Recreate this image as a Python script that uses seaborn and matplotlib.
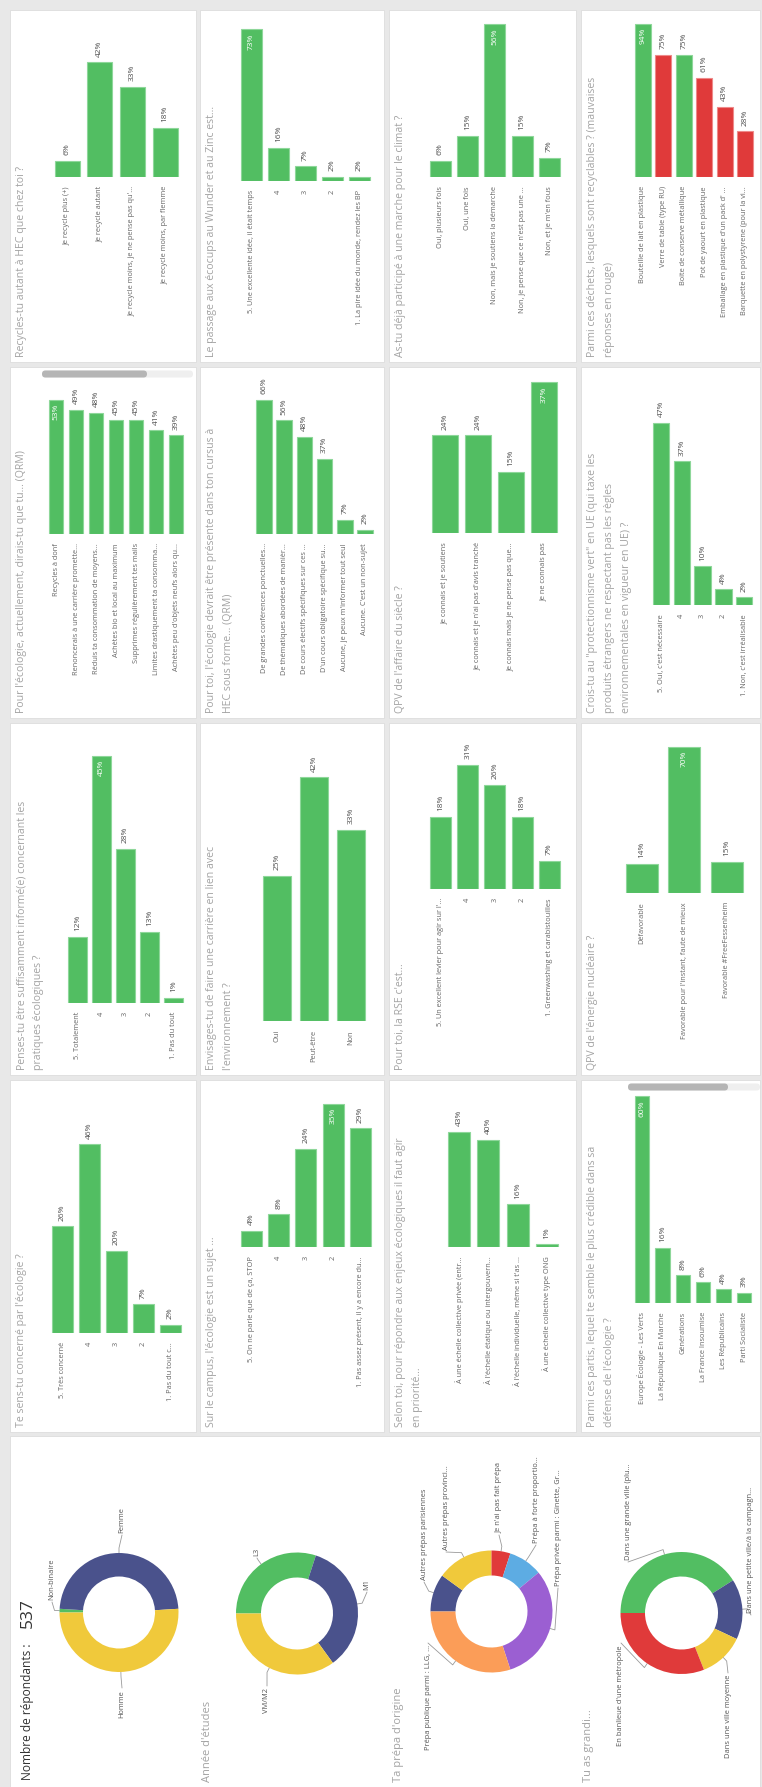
import matplotlib
matplotlib.use("Agg")
import matplotlib.pyplot as plt
from matplotlib.patches import Rectangle, FancyBboxPatch
import seaborn as sns
import pandas as pd
import numpy as np

sns.set_theme(style="white")
plt.rcParams['font.family'] = ['Open Sans', 'DejaVu Sans']

# ---------------------------------------------------------------- data
recycle_cats = ["Je recycle plus (+)", "Je recycle autant",
                "Je recycle moins, je ne pense pas qu'...", "Je recycle moins, par flemme"]
recycle_vals = [6, 42, 33, 18]

ecocup_cats = ["5. Une excellente idée, il était temps", "4", "3", "2",
               "1. La pire idée du monde, rendez les BP"]
ecocup_vals = [73, 16, 7, 2, 2]

marche_cats = ["Oui, plusieurs fois", "Oui, une fois", "Non, mais je soutiens la démarche",
               "Non, je pense que ce n'est pas une ...", "Non, et je m'en fous"]
marche_vals = [6, 15, 56, 15, 7]

dechets_cats = ["Bouteille de lait en plastique", "Verre de table (type RU)",
                "Boite de conserve métallique", "Pot de yaourt en plastique",
                "Emballage en plastique d'un pack d' ...", "Barquette en polystyrene (pour la vi..."]
dechets_vals = [94, 75, 75, 61, 43, 28]
dechets_correct = [True, False, True, False, False, False]

actuel_cats = ["Recycles à donf", "Renoncerais à une carrière promette...",
               "Réduis ta consommation de moyens...", "Achètes bio et local au maximum",
               "Supprimes régulièrement tes mails", "Limites drastiquement ta consomma...",
               "Achètes peu d'objets neufs alors qu..."]
actuel_vals = [53, 49, 48, 45, 45, 41, 39]

cursus_cats = ["De grandes conférences ponctuelles...", "De thématiques abordées de manièr...",
               "De cours électifs spécifiques sur ces ...", "D'un cours obligatoire spécifique su...",
               "Aucune, je peux m'informer tout seul", "Aucune. C'est un non-sujet"]
cursus_vals = [66, 56, 48, 37, 7, 2]

siecle_cats = ["Je connais et je soutiens", "Je connais et je n'ai pas d'avis tranché",
               "Je connais mais je ne pense pas que...", "Je ne connais pas"]
siecle_vals = [24, 24, 15, 37]

protec_cats = ["5. Oui, c'est nécessaire", "4", "3", "2", "1. Non, c'est irréalisable"]
protec_vals = [47, 37, 10, 4, 2]

informe_cats = ["5. Totalement", "4", "3", "2", "1. Pas du tout"]
informe_vals = [12, 45, 28, 13, 1]

carriere_cats = ["Oui", "Peut-être", "Non"]
carriere_vals = [25, 42, 33]

rse_cats = ["5. Un excellent levier pour agir sur l'...", "4", "3", "2",
            "1. Greenwashing et carabistouilles"]
rse_vals = [18, 31, 26, 18, 7]

nucl_cats = ["Défavorable", "Favorable pour l'instant, faute de mieux", "Favorable #FreeFessenheim"]
nucl_vals = [14, 70, 15]

concerne_cats = ["5. Très concerné", "4", "3", "2", "1. Pas du tout c..."]
concerne_vals = [26, 46, 20, 7, 2]

campus_cats = ["5. On ne parle que de ça, STOP", "4", "3", "2",
               "1. Pas assez présent, il y a encore du..."]
campus_vals = [4, 8, 24, 35, 29]

echelle_cats = ["À une échelle collective privée (entr...", "À l'échelle étatique ou intergouvern...",
                "À l'échelle individuelle, même si t'as ...", "À une échelle collective type ONG"]
echelle_vals = [43, 40, 16, 1]

partis_cats = ["Europe Écologie - Les Verts", "La République En Marche", "Générations",
               "La France Insoumise", "Les Républicains", "Parti Socialiste"]
partis_vals = [60, 16, 8, 6, 4, 3]

nb_repondants = 537

genre_cats = ["Non-binaire", "Femme", "Homme"]
genre_vals = [1, 48, 51]

annee_cats = ["L3", "M1", "VM/M2"]
annee_vals = [30, 35, 35]

prepa_cats = ["Autres prépas parisiennes", "Autres prépas provinci...", "Je n'ai pas fait prépa",
              "Prépa à forte proportio...", "Prépa privée parmi : Ginette, Gr...",
              "Prépa publique parmi : LLG, ..."]
prepa_vals = [10, 15, 5, 9, 31, 30]

grandi_cats = ["Dans une grande ville (plu...", "Dans une petite ville/à la campagn...",
               "Dans une ville moyenne", "En banlieue d'une métropole"]
grandi_vals = [41, 16, 12, 31]

# ---------------------------------------------------------------- style
W, H, DPI = 762, 1787, 100
GREEN = "#52BE62"
GREEN_EDGE = "#8ED79A"
RED = "#E03A3A"
RED_EDGE = "#EE8A8A"
NAVY = "#4A528C"
YELLOW = "#F0C93B"
ORANGE = "#FB9D58"
PURPLE = "#9B5FD2"
LBLUE = "#5DACE3"
BG = "#E8E8E8"
TITLE_C = "#A3A3A3"
CAT_C = "#666666"
VAL_C = "#505050"
TITLE_FS = 7.6
CAT_FS = 5.3
VAL_FS = 6.0

cols = [(10, 186), (200, 184), (389, 187), (581, 179)]
rows = [(10, 352), (367, 351), (723, 352), (1080, 352)]

fig = plt.figure(figsize=(W / DPI, H / DPI), dpi=DPI)
fig.patch.set_facecolor(BG)
bg = fig.add_axes([0, 0, 1, 1])
bg.set_xlim(0, W)
bg.set_ylim(H, 0)
bg.axis("off")


def frect(x, y, w, h):
    return [x / W, 1 - (y + h) / H, w / W, h / H]


panels = [
    dict(r=0, c=0, title="Recycles-tu autant à HEC que chez toi ?", cats=recycle_cats, vals=recycle_vals,
         c0=67, pitch=32.7, bw=25, base=177, ppp=2.73, inside=False),
    dict(r=0, c=1, title="Le passage aux écocups au Wunder et au Zinc est...", cats=ecocup_cats, vals=ecocup_vals,
         c0=251.5, pitch=27, bw=21, base=181, ppp=2.08, inside=True),
    dict(r=0, c=2, title="As-tu déjà participé à une marche pour le climat ?", cats=marche_cats, vals=marche_vals,
         c0=440.5, pitch=27.2, bw=21, base=177, ppp=2.73, inside=True),
    dict(r=0, c=3, title="Parmi ces déchets, lesquels sont recyclables ? (mauvaises\nréponses en rouge)",
         cats=dechets_cats, vals=dechets_vals, correct=dechets_correct,
         c0=643, pitch=20.4, bw=16, base=177, ppp=1.63, inside=True),
    dict(r=1, c=0, title="Pour l'écologie, actuellement, dirais-tu que tu... (QRM)", cats=actuel_cats, vals=actuel_vals,
         c0=56, pitch=20, bw=14, base=534, ppp=2.53, inside=True, scroll=(42, 147, 193, 374)),
    dict(r=1, c=1, title="Pour toi, l'écologie devrait être présente dans ton cursus à\nHEC sous forme... (QRM)",
         cats=cursus_cats, vals=cursus_vals,
         c0=264, pitch=20.2, bw=15.5, base=534, ppp=2.03, inside=False),
    dict(r=1, c=2, title="QPV de l'affaire du siècle ?", cats=siecle_cats, vals=siecle_vals,
         c0=445, pitch=33, bw=25.5, base=533, ppp=4.08, inside=True),
    dict(r=1, c=3, title="Crois-tu au \"protectionnisme vert\" en UE (qui taxe les\nproduits étrangers ne respectant pas les règles\nenvironnementales en vigueur en UE) ?",
         cats=protec_cats, vals=protec_vals,
         c0=661, pitch=20.8, bw=16.5, base=605, ppp=3.88, inside=False),
    dict(r=2, c=0, title="Penses-tu être suffisamment informé(e) concernant les\npratiques écologiques ?",
         cats=informe_cats, vals=informe_vals,
         c0=77.5, pitch=24, bw=19, base=1003, ppp=5.5, inside=True),
    dict(r=2, c=1, title="Envisages-tu de faire une carrière en lien avec\nl'environnement ?",
         cats=carriere_cats, vals=carriere_vals,
         c0=277, pitch=37, bw=28, base=1021, ppp=5.8, inside=False),
    dict(r=2, c=2, title="Pour toi, la RSE c'est...", cats=rse_cats, vals=rse_vals,
         c0=440.5, pitch=27.2, bw=21, base=889, ppp=4.0, inside=False),
    dict(r=2, c=3, title="QPV de l'énergie nucléaire ?", cats=nucl_cats, vals=nucl_vals,
         c0=642, pitch=42.3, bw=32, base=893, ppp=2.09, inside=True),
    dict(r=3, c=0, title="Te sens-tu concerné par l'écologie ?", cats=concerne_cats, vals=concerne_vals,
         c0=62.5, pitch=27, bw=21, base=1333, ppp=4.1, inside=False),
    dict(r=3, c=1, title="Sur le campus, l'écologie est un sujet ...", cats=campus_cats, vals=campus_vals,
         c0=251.5, pitch=27.2, bw=21, base=1247, ppp=4.1, inside=True),
    dict(r=3, c=2, title="Selon toi, pour répondre aux enjeux écologiques il faut agir\nen priorité...",
         cats=echelle_cats, vals=echelle_vals,
         c0=459, pitch=29.3, bw=22, base=1247, ppp=2.68, inside=False),
    dict(r=3, c=3, title="Parmi ces partis, lequel te semble le plus crédible dans sa\ndéfense de l'écologie ?",
         cats=partis_cats, vals=partis_vals,
         c0=642, pitch=20.4, bw=14.5, base=1303, ppp=3.45, inside=True, scroll=(628, 728, 760, 1087)),
]

for p in panels:
    px, pw = cols[p["c"]]
    py, ph = rows[p["r"]]
    bg.add_patch(Rectangle((px, py), pw, ph, facecolor="white", edgecolor="#DDDDDD", lw=0.6))
    bg.text(px + 6, py + ph - 5, p["title"], rotation=90, rotation_mode="anchor",
            ha="left", va="top", fontsize=TITLE_FS, color=TITLE_C, linespacing=1.75)
    if "scroll" in p:
        x0, x1, x2, yy = p["scroll"]
        bg.add_patch(FancyBboxPatch((x0, yy - 3.5), x2 - x0, 7, boxstyle="round,pad=0,rounding_size=3.5",
                                    facecolor="#EFEFEF", edgecolor="none"))
        bg.add_patch(FancyBboxPatch((x0, yy - 3.5), x1 - x0, 7, boxstyle="round,pad=0,rounding_size=3.5",
                                    facecolor="#B5B5B5", edgecolor="none"))

    n = len(p["cats"])
    top = py + 8
    ax_left = p["c0"] - p["pitch"] / 2
    ax = fig.add_axes(frect(ax_left, top, n * p["pitch"], p["base"] - top))
    df = pd.DataFrame({"cat": p["cats"], "val": p["vals"]})
    if "correct" in p:
        pal = [GREEN if ok else RED for ok in p["correct"]]
        edges = [GREEN_EDGE if ok else RED_EDGE for ok in p["correct"]]
    else:
        pal = [GREEN] * n
        edges = [GREEN_EDGE] * n
    sns.barplot(data=df, x="cat", y="val", hue="cat", order=p["cats"], hue_order=p["cats"],
                palette=pal, saturation=1, width=p["bw"] / p["pitch"], legend=False, ax=ax)
    for patch, ec in zip(ax.patches, edges):
        patch.set_edgecolor(ec)
        patch.set_linewidth(0.8)
    ax.set_xlim(-0.5, n - 0.5)
    ax.set_ylim(0, (p["base"] - top) / p["ppp"])
    ax.set_facecolor("none")
    for s in ax.spines.values():
        s.set_visible(False)
    ax.set_yticks([])
    ax.set_xlabel("")
    ax.set_ylabel("")
    ax.set_xticks(range(n))
    ax.set_xticklabels(p["cats"], rotation=90, ha="center", va="top", fontsize=CAT_FS, color=CAT_C)
    ax.tick_params(axis="x", length=0, pad=6.5)
    vmax = max(p["vals"])
    imax = p["vals"].index(vmax)
    for i, v in enumerate(p["vals"]):
        if p["inside"] and i == imax:
            ax.annotate(f"{v}%", (i, v), xytext=(0, -3), textcoords="offset points", rotation=90,
                        ha="center", va="top", fontsize=VAL_FS, color="white")
        else:
            ax.annotate(f"{v}%", (i, v), xytext=(0, 4), textcoords="offset points", rotation=90,
                        ha="center", va="bottom", fontsize=VAL_FS, color=VAL_C)

# ---------------------------------------------------------------- donut panel
ey, eh = 1436, 351
bg.add_patch(Rectangle((10, ey), 750, eh, facecolor="white", edgecolor="#DDDDDD", lw=0.6))
bg.text(28, 1780, "Nombre de répondants :", rotation=90, rotation_mode="anchor",
        ha="left", va="center", fontsize=8.6, color="#333333")
bg.text(28, 1628, f"{nb_repondants}", rotation=90, rotation_mode="anchor",
        ha="left", va="center", fontsize=12.5, color="#333333")
for xx, tt in [(207, "Année d'études"), (399, "Ta prépa d'origine"), (589, "Tu as grandi...")]:
    bg.text(xx, 1782, tt, rotation=90, rotation_mode="anchor", ha="left", va="center",
            fontsize=8.0, color=TITLE_C)

donuts = [
    dict(cats=genre_cats, vals=genre_vals, colors=[GREEN, NAVY, YELLOW], cx=119, cy=1612.5, R=59.5, r=36,
         labels=[(52, 1600, "up"), (122, 1533, "up"), (122, 1690, "down")]),
    dict(cats=annee_cats, vals=annee_vals, colors=[GREEN, NAVY, YELLOW], cx=297, cy=1613.5, R=61, r=36,
         labels=[(257, 1556, "up"), (367, 1590, "up"), (267, 1688, "down")]),
    dict(cats=prepa_cats, vals=prepa_vals, colors=[NAVY, YELLOW, RED, LBLUE, PURPLE, ORANGE],
         cx=491.5, cy=1611.5, R=61, r=36,
         labels=[(424, 1580, "up"), (446, 1550, "up"), (499, 1533, "up"), (536, 1543, "up"),
                 (558, 1586, "up"), (428, 1645, "down")]),
    dict(cats=grandi_cats, vals=grandi_vals, colors=[GREEN, NAVY, YELLOW, RED],
         cx=681.5, cy=1613, R=61, r=36.5,
         labels=[(628, 1560, "up"), (751, 1613, "up"), (728, 1675, "down"), (621, 1645, "down")]),
]

for d in donuts:
    R = d["R"]
    dax = fig.add_axes(frect(d["cx"] - R, d["cy"] - R, 2 * R, 2 * R))
    wedges, _ = dax.pie(d["vals"], colors=d["colors"], startangle=180, counterclock=False, radius=1,
                        wedgeprops=dict(width=(R - d["r"]) / R, edgecolor="none"))
    dax.set_xlim(-1, 1)
    dax.set_ylim(-1, 1)
    dax.set_aspect("equal")
    dax.axis("off")
    for w, name, (lx, ly, side) in zip(wedges, d["cats"], d["labels"]):
        th = np.deg2rad((w.theta1 + w.theta2) / 2)
        p1 = (d["cx"] + R * np.cos(th), d["cy"] - R * np.sin(th))
        p2 = (d["cx"] + (R + 5) * np.cos(th), d["cy"] - (R + 5) * np.sin(th))
        end = (lx, ly + 2) if side == "up" else (lx, ly - 2)
        bg.plot([p1[0], p2[0], end[0]], [p1[1], p2[1], end[1]], color="#9A9A9A", lw=0.6)
        bg.text(lx, ly, name, rotation=90, rotation_mode="anchor",
                ha="left" if side == "up" else "right", va="center", fontsize=5.4, color="#555555")

fig.savefig("out.png", dpi=DPI, facecolor=fig.get_facecolor())
